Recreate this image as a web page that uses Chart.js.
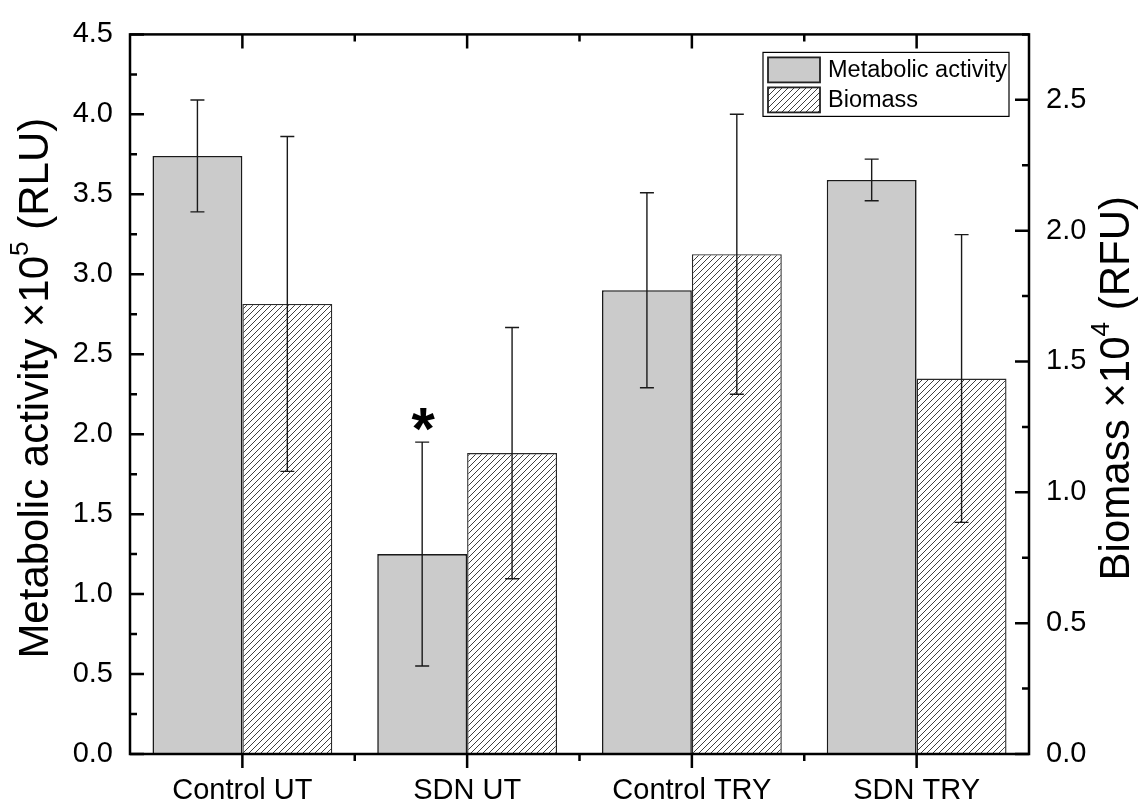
<!DOCTYPE html>
<html>
<head>
<meta charset="utf-8">
<script src="https://cdn.jsdelivr.net/npm/chart.js@4.4.1/dist/chart.umd.min.js"></script>
<style>
html,body{margin:0;padding:0;background:#ffffff;}
#wrap{width:1144px;height:808px;position:relative;}
</style>
</head>
<body>
<div id="wrap"><canvas id="c" width="1144" height="808"></canvas></div>
<script>
// ---- data ----
const categories = ['Control UT', 'SDN UT', 'Control TRY', 'SDN TRY'];
const metabolicActivity = [3.74, 1.25, 2.90, 3.59];
const metabolicError = [0.35, 0.70, 0.61, 0.13];
const biomass = [1.72, 1.15, 1.91, 1.435];
const biomassError = [0.64, 0.48, 0.535, 0.55];
const significance = ['', '*', '', ''];
const seriesLabels = ['Metabolic activity', 'Biomass'];
const leftTitleParts = [['Metabolic activity \u00d710', false], ['5', true], [' (RLU)', false]];
const rightTitleParts = [['Biomass \u00d710', false], ['4', true], [' (RFU)', false]];
const leftAxis = {min: 0, max: 4.5, major: 0.5, minor: 0.25};
const rightAxis = {min: 0, max: 2.75, major: 0.5, minor: 0.25};

const FONT = '"Liberation Sans", Arial, Helvetica, sans-serif';

function hatchPattern() {
  const s = 6;
  const cv = document.createElement('canvas');
  cv.width = s; cv.height = s;
  const g = cv.getContext('2d');
  g.fillStyle = '#ffffff';
  g.fillRect(0, 0, s, s);
  g.strokeStyle = '#2a2a2a';
  g.lineWidth = 0.9;
  g.beginPath();
  g.moveTo(-1, s + 1); g.lineTo(s + 1, -1);
  g.moveTo(-1, 1); g.lineTo(1, -1);
  g.moveTo(s - 1, s + 1); g.lineTo(s + 1, s - 1);
  g.stroke();
  return g.createPattern(cv, 'repeat');
}

const ctx0 = document.getElementById('c').getContext('2d');
const hatch = hatchPattern();

const framePlugin = {
  id: 'frameTicks',
  afterDraw(chart) {
    const ctx = chart.ctx;
    const a = chart.chartArea;
    const xs = chart.scales.x, ys = chart.scales.y, y1 = chart.scales.y1;
    ctx.save();
    ctx.strokeStyle = '#000';
    ctx.lineWidth = 2.5;
    ctx.lineCap = 'butt';
    ctx.strokeRect(a.left, a.top, a.right - a.left, a.bottom - a.top);
    ctx.beginPath();
    // left axis ticks (inward)
    for (let v = leftAxis.min; v <= leftAxis.max + 1e-9; v += leftAxis.minor) {
      const isMajor = Math.abs(v / leftAxis.major - Math.round(v / leftAxis.major)) < 1e-6;
      const y = ys.getPixelForValue(v);
      ctx.moveTo(a.left, y); ctx.lineTo(a.left + (isMajor ? 14 : 7), y);
    }
    // right axis ticks (inward)
    for (let v = rightAxis.min; v <= rightAxis.max + 1e-9; v += rightAxis.minor) {
      const isMajor = Math.abs(v / rightAxis.major - Math.round(v / rightAxis.major)) < 1e-6;
      const y = y1.getPixelForValue(v);
      ctx.moveTo(a.right, y); ctx.lineTo(a.right - (isMajor ? 14 : 7), y);
    }
    // x ticks
    const n = categories.length;
    const step = xs.getPixelForValue(1) - xs.getPixelForValue(0);
    for (let i = 0; i < n; i++) {
      const x = xs.getPixelForValue(i);
      ctx.moveTo(x, a.bottom); ctx.lineTo(x, a.bottom + 14);
      ctx.moveTo(x, a.top); ctx.lineTo(x, a.top + 14);
      if (i < n - 1) {
        const xm = x + step / 2;
        ctx.moveTo(xm, a.bottom); ctx.lineTo(xm, a.bottom + 7);
        ctx.moveTo(xm, a.top); ctx.lineTo(xm, a.top + 7);
      }
    }
    ctx.stroke();

    // axis titles
    function drawTitle(parts, cx, cy, size) {
      const supSize = size * 0.62;
      let total = 0;
      const widths = parts.map(([t, sup]) => {
        ctx.font = (sup ? supSize : size) + 'px ' + FONT;
        const w = ctx.measureText(t).width; total += w; return w;
      });
      ctx.save();
      ctx.translate(cx, cy);
      ctx.rotate(-Math.PI / 2);
      ctx.fillStyle = '#000';
      ctx.textBaseline = 'middle';
      ctx.textAlign = 'left';
      let x = -total / 2;
      parts.forEach(([t, sup], k) => {
        ctx.font = (sup ? supSize : size) + 'px ' + FONT;
        ctx.fillText(t, x, sup ? -size * 0.36 : 0);
        x += widths[k];
      });
      ctx.restore();
    }
    const cy = (a.top + a.bottom) / 2 - 6;
    drawTitle(leftTitleParts, 36, cy, 42);
    drawTitle(rightTitleParts, chart.width - 27, cy, 42);

    // legend
    const lx = a.right - 266, ly = a.top + 18, lw = 246, lh = 64;
    ctx.lineWidth = 1.2;
    ctx.strokeStyle = '#000';
    ctx.fillStyle = '#fff';
    ctx.fillRect(lx, ly, lw, lh);
    ctx.strokeRect(lx, ly, lw, lh);
    chart.data.datasets.forEach((ds, k) => {
      const sy = ly + 5 + k * 30;
      ctx.fillStyle = ds.backgroundColor;
      ctx.fillRect(lx + 5, sy, 52, 25);
      ctx.lineWidth = 1.8;
      ctx.strokeStyle = '#222';
      ctx.strokeRect(lx + 5, sy, 52, 25);
      ctx.fillStyle = '#000';
      ctx.font = '23.5px ' + FONT;
      ctx.textBaseline = 'middle';
      ctx.textAlign = 'left';
      ctx.fillText(ds.label, lx + 65, sy + 13);
    });
    ctx.restore();
  },
  afterDatasetsDraw(chart) {
    const ctx = chart.ctx;
    ctx.save();
    ctx.strokeStyle = '#1a1a1a';
    ctx.lineWidth = 1.4;
    chart.data.datasets.forEach((ds, d) => {
      const meta = chart.getDatasetMeta(d);
      const sc = chart.scales[meta.yAxisID];
      meta.data.forEach((el, i) => {
        const v = ds.data[i], e = ds.errors[i];
        const yt = sc.getPixelForValue(v + e), yb = sc.getPixelForValue(v - e);
        ctx.beginPath();
        ctx.moveTo(el.x, yt); ctx.lineTo(el.x, yb);
        ctx.moveTo(el.x - 7, yt); ctx.lineTo(el.x + 7, yt);
        ctx.moveTo(el.x - 7, yb); ctx.lineTo(el.x + 7, yb);
        ctx.stroke();
        if (d === 0 && significance[i]) {
          ctx.fillStyle = '#000';
          ctx.font = 'bold 60px ' + FONT;
          ctx.textAlign = 'center';
          ctx.textBaseline = 'alphabetic';
          const m = ctx.measureText(significance[i]);
          ctx.fillText(significance[i], el.x + 1, yt - 11 - m.actualBoundingBoxDescent);
        }
      });
    });
    ctx.restore();
  }
};

new Chart(ctx0, {
  type: 'bar',
  data: {
    labels: categories,
    datasets: [
      {label: seriesLabels[0], data: metabolicActivity, errors: metabolicError, yAxisID: 'y',
       backgroundColor: '#cbcbcb', borderColor: '#1a1a1a', borderWidth: 1.6,
       categoryPercentage: 0.8, barPercentage: 1.0},
      {label: seriesLabels[1], data: biomass, errors: biomassError, yAxisID: 'y1',
       backgroundColor: hatch, borderColor: '#2a2a2a', borderWidth: 1.4,
       categoryPercentage: 0.8, barPercentage: 1.0}
    ]
  },
  options: {
    responsive: false,
    animation: false,
    devicePixelRatio: 1,
    layout: {padding: {top: 28, left: 0, right: 0, bottom: 0}},
    plugins: {legend: {display: false}, tooltip: {enabled: false}},
    scales: {
      x: {
        type: 'category', offset: true,
        grid: {display: false, drawTicks: false}, border: {display: false},
        ticks: {color: '#000', font: {family: FONT, size: 29}, padding: 20, maxRotation: 0},
        afterFit(s) { s.height = 54; }
      },
      y: {
        position: 'left', min: leftAxis.min, max: leftAxis.max,
        grid: {display: false, drawTicks: false}, border: {display: false},
        ticks: {stepSize: leftAxis.major, color: '#000', font: {family: FONT, size: 29}, padding: 17,
                callback: v => Number(v).toFixed(1)},
        afterFit(s) { s.width = 130; }
      },
      y1: {
        position: 'right', min: rightAxis.min, max: rightAxis.max,
        grid: {display: false, drawTicks: false}, border: {display: false},
        ticks: {stepSize: rightAxis.major, color: '#000', font: {family: FONT, size: 29}, padding: 17,
                callback: v => (Math.abs(v / rightAxis.major - Math.round(v / rightAxis.major)) < 1e-6 ? Number(v).toFixed(1) : '')},
        afterFit(s) { s.width = 115; }
      }
    }
  },
  plugins: [framePlugin]
});
</script>
</body>
</html>
